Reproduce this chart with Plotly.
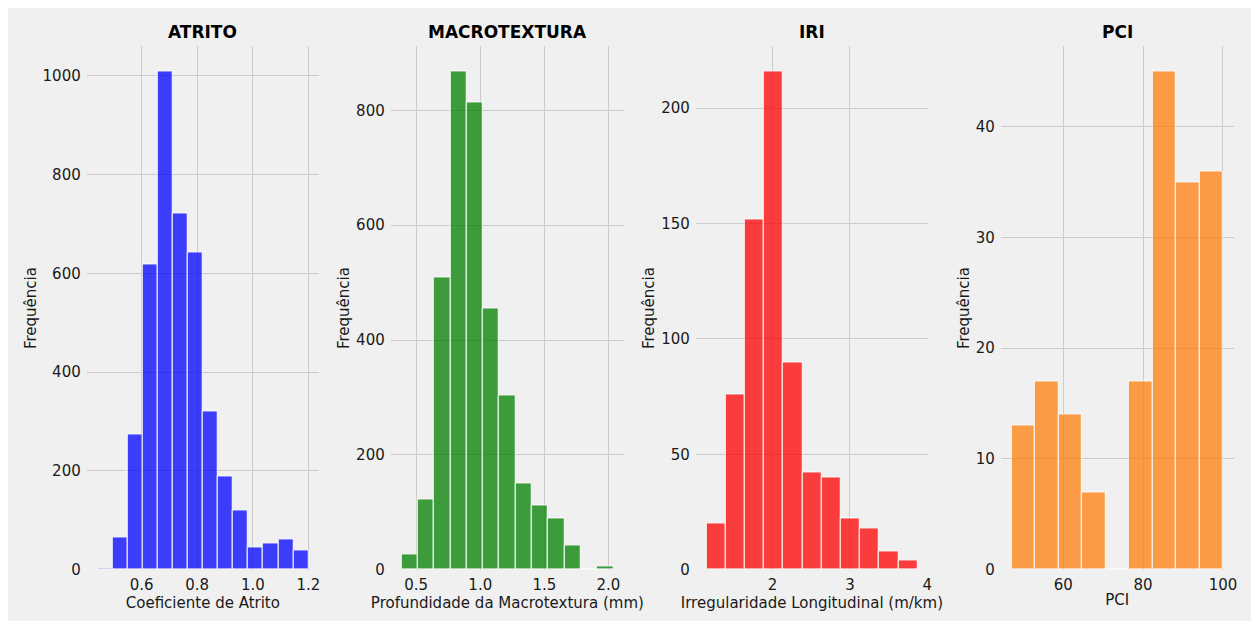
import numpy as np
import plotly.graph_objects as go

# The page body has an 8px margin; the figure is sized so that the whole
# page is exactly the 1259x629 window.  Pixel positions below are window px.
OFF = 8
WIN_W, WIN_H = 1259, 629
W, H = WIN_W - 2 * OFF, WIN_H - 2 * OFF

# ---------------- data ----------------
titles = ["ATRITO", "MACROTEXTURA", "IRI", "PCI"]
x_labels = ["Coeficiente de Atrito", "Profundidade da Macrotextura (mm)",
            "Irregularidade Longitudinal (m/km)", "PCI"]
y_label = "Frequência"

atrito_bin_start, atrito_bin_width = 0.4407, 0.05423
atrito_counts = [3, 66, 273, 619, 1009, 721, 642, 321, 188, 119, 45, 54, 62, 38]

macro_bin_start, macro_bin_width = 0.384, 0.1273
macro_counts = [27, 122, 509, 868, 814, 455, 303, 151, 112, 90, 43, 0, 6]

iri_bin_start, iri_bin_width = 1.143, 0.2481
iri_counts = [20, 76, 152, 216, 90, 42, 40, 22, 18, 8, 4]

pci_bin_start, pci_bin_width = 47.0, 5.889
pci_counts = [13, 17, 14, 7, 0, 17, 45, 35, 36]

atrito_ticks = [0.6, 0.8, 1.0, 1.2]
atrito_ticklabels = ["0.6", "0.8", "1.0", "1.2"]
macro_ticks = [0.5, 1.0, 1.5, 2.0]
macro_ticklabels = ["0.5", "1.0", "1.5", "2.0"]
iri_ticks = [2, 3, 4]
iri_ticklabels = ["2", "3", "4"]
pci_ticks = [60, 80, 100]
pci_ticklabels = ["60", "80", "100"]

atrito_yticks = [0, 200, 400, 600, 800, 1000]
macro_yticks = [0, 200, 400, 600, 800]
iri_yticks = [0, 50, 100, 150, 200]
pci_yticks = [0, 10, 20, 30, 40]

colors = ["#0000ff", "#008000", "#ff0000", "#ff7f0e"]

panels = [
    (atrito_bin_start, atrito_bin_width, atrito_counts, atrito_ticks, atrito_ticklabels, atrito_yticks),
    (macro_bin_start, macro_bin_width, macro_counts, macro_ticks, macro_ticklabels, macro_yticks),
    (iri_bin_start, iri_bin_width, iri_counts, iri_ticks, iri_ticklabels, iri_yticks),
    (pci_bin_start, pci_bin_width, pci_counts, pci_ticks, pci_ticklabels, pci_yticks),
]

# ---------------- layout geometry (window pixels) ----------------
x_domains_px = [(87, 320), (392, 626), (698, 931), (1004, 1237.5)]
y_bottom_px, y_top_px = 578, 47


def fx(px):
    return (px - OFF) / W


def fy(py):
    return 1 - (py - OFF) / H


ydom = [fy(y_bottom_px), fy(y_top_px)]

FONT = "DejaVu Sans"
BG = "#f0f0f0"
GRID = "#cbcbcb"
TXT = "#1a1a1a"

fig = go.Figure()
layout = dict(
    width=W, height=H,
    autosize=False,
    margin=dict(l=0, r=0, t=0, b=0),
    paper_bgcolor=BG,
    plot_bgcolor="rgba(0,0,0,0)",
    showlegend=False,
    bargap=0,
    font=dict(family=FONT, size=15, color=TXT),
    annotations=[],
)

for i, (start, width, counts, xt, xtl, yt) in enumerate(panels):
    n = len(counts)
    edges = start + width * np.arange(n + 1)
    centers = (edges[:-1] + edges[1:]) / 2
    xa = "x" if i == 0 else f"x{i+1}"
    ya = "y" if i == 0 else f"y{i+1}"
    fig.add_trace(go.Bar(
        x=centers, y=counts, width=[width] * n,
        marker=dict(color=colors[i], line=dict(color="white", width=1)),
        opacity=0.75, xaxis=xa, yaxis=ya, hoverinfo="x+y",
    ))
    span = edges[-1] - edges[0]
    xr = [edges[0] - 0.05 * span, edges[-1] + 0.05 * span]
    yr = [0, max(counts) * 1.05]
    d0, d1 = x_domains_px[i]
    key = "" if i == 0 else str(i + 1)
    layout["xaxis" + key] = dict(
        domain=[fx(d0), fx(d1)], anchor=ya, range=xr,
        tickvals=xt, ticktext=xtl, showgrid=True, gridcolor=GRID, gridwidth=1,
        zeroline=False, showline=False, ticks="", ticklabelstandoff=4,
        tickfont=dict(size=15, color=TXT),
        title=dict(text=x_labels[i], font=dict(size=15, color=TXT), standoff=1),
    )
    layout["yaxis" + key] = dict(
        domain=ydom, anchor=xa, range=yr,
        tickvals=yt, showgrid=True, gridcolor=GRID, gridwidth=1,
        zeroline=False, showline=False, ticks="", ticklabelstandoff=5,
        tickfont=dict(size=15, color=TXT),
        title=dict(text=y_label, font=dict(size=15, color=TXT), standoff=2),
    )
    layout["annotations"].append(dict(
        text=f"<b>{titles[i]}</b>", xref=f"{xa} domain", yref="paper",
        x=0.5, y=fy(32), xanchor="center", yanchor="middle",
        showarrow=False, font=dict(size=17, color="black", family=FONT),
    ))

fig.update_layout(**layout)
fig.write_html("out.html")
